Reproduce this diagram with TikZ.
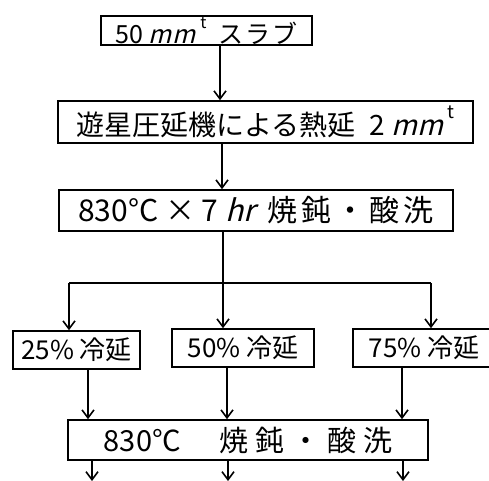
\documentclass[tikz,border=0pt]{standalone}
\usepackage{fontspec}
\setmainfont{Noto Sans CJK JP}
\newfontfamily\slantjp[FakeSlant=0.25]{Noto Sans CJK JP}
\usetikzlibrary{arrows.meta}
\newcommand{\unitmm}{{\slantjp mm}\kern5pt\raisebox{0.6em}{\scalebox{0.65}{t}}}
\begin{document}
\begin{tikzpicture}[x=1pt,y=-1pt,
  box/.style={draw,line width=1.6pt,inner sep=0pt,anchor=center},
  conn/.style={line width=1.6pt},
  arr/.style={line width=1.6pt,-{Straight Barb[length=8pt,width=12pt,line width=1.6pt]}}]
\useasboundingbox (0,0) rectangle (489,480);
% boxes
\node[box,minimum width=211pt,minimum height=29pt] (b1) at (206.5,30.5)
  {\fontsize{25}{28}\selectfont 50 \unitmm\hspace{12pt}{\addfontfeature{LetterSpace=8}スラブ}\hspace{10pt}};
\node[box,minimum width=415pt,minimum height=42pt] (b2) at (265.5,122)
  {\fontsize{28}{32}\selectfont 遊星圧延機による熱延\hspace{14pt}2 \unitmm};
\node[box,minimum width=394pt,minimum height=41pt] (b3) at (256,210.5)
  {\fontsize{30}{32}\selectfont 830°C × 7 {\slantjp hr}\hspace{12pt}{\addfontfeature{LetterSpace=14}焼鈍・酸洗}};
\node[box,minimum width=127pt,minimum height=38pt] (r25) at (76.5,350)
  {\fontsize{26}{28}\selectfont 25\% 冷延};
\node[box,minimum width=142pt,minimum height=38pt] (r50) at (243,348)
  {\fontsize{26}{28}\selectfont 50\% 冷延};
\node[box,minimum width=142pt,minimum height=38pt] (r75) at (424,348)
  {\fontsize{26}{28}\selectfont 75\% 冷延};
\node[box,minimum width=360pt,minimum height=40pt] (b5) at (248,440)
  {\fontsize{29}{32}\selectfont 830°C\hspace{38pt}{\addfontfeature{LetterSpace=24}焼鈍・酸洗}\hspace{14pt}};
% branch coordinates
\coordinate (br) at (223,283);
\coordinate (brL) at (69,283);
\coordinate (brR) at (431,283);
\coordinate (o1) at (92,481);
\coordinate (o2) at (228,481);
\coordinate (o3) at (403,481);
% connectors
\draw[arr] (220,0 |- b1.south) -- (220,0 |- b2.north);
\draw[arr] (222,0 |- b2.south) -- (222,0 |- b3.north);
\draw[conn] (br |- b3.south) -- (br);
\draw[conn] (brL) -- (brR);
\draw[arr] (brL) -- (brL |- r25.north);
\draw[arr] (br) -- (br |- r50.north);
\draw[arr] (brR) -- (brR |- r75.north);
\draw[arr] (88,0 |- r25.south) -- (88,0 |- b5.north);
\draw[arr] (227,0 |- r50.south) -- (227,0 |- b5.north);
\draw[arr] (402,0 |- r75.south) -- (402,0 |- b5.north);
\draw[arr] (o1 |- b5.south) -- (o1);
\draw[arr] (o2 |- b5.south) -- (o2);
\draw[arr] (o3 |- b5.south) -- (o3);
\end{tikzpicture}
\end{document}
